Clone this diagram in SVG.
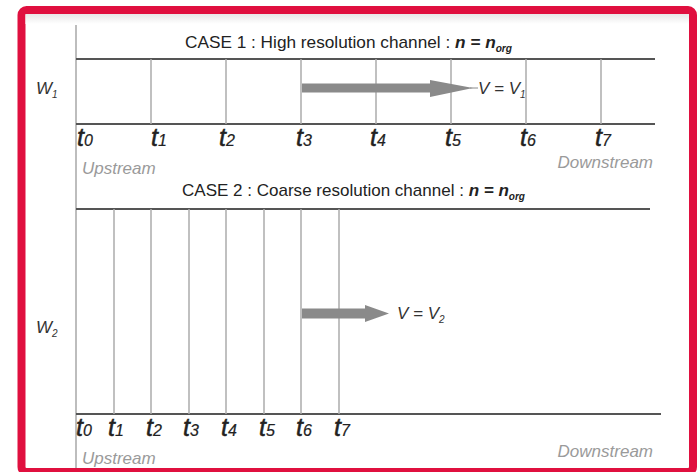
<svg xmlns="http://www.w3.org/2000/svg" width="697" height="472" viewBox="0 0 697 472">
  <defs>
    <linearGradient id="topShade" x1="0" y1="0" x2="0" y2="1">
      <stop offset="0" stop-color="#e8e8e8"/>
      <stop offset="1" stop-color="#ffffff"/>
    </linearGradient>
    <style>
      .frame { fill: #ffffff; stroke: #e0103f; stroke-width: 8; }
      .axis { stroke: #bdbdbd; stroke-width: 2; }
      .rail { stroke: #555555; stroke-width: 2; }
      .cell { stroke: #ababab; stroke-width: 1.5; }
      .flow { fill: #8a8a8a; }
      text { font-family: "Liberation Sans", Arial, sans-serif; }
      .title { font-size: 17px; fill: #222; }
      .bi { font-weight: bold; font-style: italic; }
      .tick { font-style: italic; font-size: 25px; fill: #222; stroke: #222; stroke-width: 0.5; }
      .tick tspan { font-size: 16px; stroke-width: 0.2; }
      .side { font-style: italic; font-size: 17px; fill: #9a9a9a; }
      .lbl { font-style: italic; font-size: 17px; fill: #333; }
      .sub { font-size: 10px; }
    </style>
  </defs>

  <!-- outer frame -->
  <rect class="frame" x="21.5" y="10" width="671.5" height="462" rx="5"/>
  <rect x="25.5" y="14" width="663.5" height="10" fill="url(#topShade)"/>

  <!-- shared axis -->
  <line class="axis" x1="76" y1="25" x2="76" y2="468"/>

  <!-- CASE 1 -->
  <g id="case1">
    <text class="title" x="185" y="48" textLength="327" lengthAdjust="spacingAndGlyphs">CASE 1 : High resolution channel : <tspan class="bi">n = n</tspan><tspan class="bi sub" dy="4">org</tspan></text>
    <line class="rail" x1="76" y1="59" x2="655" y2="59"/>
    <line class="rail" x1="76" y1="124" x2="655" y2="124"/>
    <g id="case1-cells">
      <line class="cell" x1="151" y1="59" x2="151" y2="124"/>
      <line class="cell" x1="226" y1="59" x2="226" y2="124"/>
      <line class="cell" x1="301" y1="59" x2="301" y2="124"/>
      <line class="cell" x1="376" y1="59" x2="376" y2="124"/>
      <line class="cell" x1="451" y1="59" x2="451" y2="124"/>
      <line class="cell" x1="526" y1="59" x2="526" y2="124"/>
      <line class="cell" x1="601" y1="59" x2="601" y2="124"/>
    </g>
    <text class="lbl" x="36" y="94">W<tspan class="sub" dy="4">1</tspan></text>
    <g id="case1-flow">
      <polygon class="flow" points="302,83.5 430,83.5 430,80 473,88 430,97 430,92.5 302,92.5"/>
      <line x1="470" y1="88" x2="478" y2="88" stroke="#8a8a8a" stroke-width="1"/>
      <text class="lbl" x="478" y="94" font-size="15">V = V<tspan class="sub" dy="4">1</tspan></text>
    </g>
    <g id="case1-ticks">
      <text class="tick" x="77" y="146">t<tspan>0</tspan></text>
      <text class="tick" x="151" y="146">t<tspan>1</tspan></text>
      <text class="tick" x="219" y="146">t<tspan>2</tspan></text>
      <text class="tick" x="296" y="146">t<tspan>3</tspan></text>
      <text class="tick" x="370" y="146">t<tspan>4</tspan></text>
      <text class="tick" x="445" y="146">t<tspan>5</tspan></text>
      <text class="tick" x="520" y="146">t<tspan>6</tspan></text>
      <text class="tick" x="595" y="146">t<tspan>7</tspan></text>
    </g>
    <text class="side" x="82" y="174">Upstream</text>
    <text class="side" x="653" y="168" text-anchor="end">Downstream</text>
  </g>

  <!-- CASE 2 -->
  <g id="case2">
    <text class="title" x="182" y="196" textLength="343" lengthAdjust="spacingAndGlyphs">CASE 2 : Coarse resolution channel : <tspan class="bi">n = n</tspan><tspan class="bi sub" dy="4">org</tspan></text>
    <line class="rail" x1="76" y1="209" x2="650" y2="209"/>
    <line class="rail" x1="76" y1="414" x2="661" y2="414"/>
    <g id="case2-cells">
      <line class="cell" x1="114" y1="209" x2="114" y2="414"/>
      <line class="cell" x1="151" y1="209" x2="151" y2="414"/>
      <line class="cell" x1="189" y1="209" x2="189" y2="414"/>
      <line class="cell" x1="226" y1="209" x2="226" y2="414"/>
      <line class="cell" x1="264" y1="209" x2="264" y2="414"/>
      <line class="cell" x1="301" y1="209" x2="301" y2="414"/>
      <line class="cell" x1="339" y1="209" x2="339" y2="414"/>
    </g>
    <text class="lbl" x="36" y="333">W<tspan class="sub" dy="4">2</tspan></text>
    <g id="case2-flow">
      <polygon class="flow" points="302,308.5 365,308.5 365,305 389,313.5 365,322 365,318.5 302,318.5"/>
      <text class="lbl" x="397" y="319" font-size="15">V = V<tspan class="sub" dy="4">2</tspan></text>
    </g>
    <g id="case2-ticks">
      <text class="tick" x="76" y="436">t<tspan>0</tspan></text>
      <text class="tick" x="108" y="436">t<tspan>1</tspan></text>
      <text class="tick" x="146" y="436">t<tspan>2</tspan></text>
      <text class="tick" x="183" y="436">t<tspan>3</tspan></text>
      <text class="tick" x="221" y="436">t<tspan>4</tspan></text>
      <text class="tick" x="259" y="436">t<tspan>5</tspan></text>
      <text class="tick" x="296" y="436">t<tspan>6</tspan></text>
      <text class="tick" x="334" y="436">t<tspan>7</tspan></text>
    </g>
    <text class="side" x="82" y="464">Upstream</text>
    <text class="side" x="653" y="457" text-anchor="end">Downstream</text>
  </g>
</svg>
